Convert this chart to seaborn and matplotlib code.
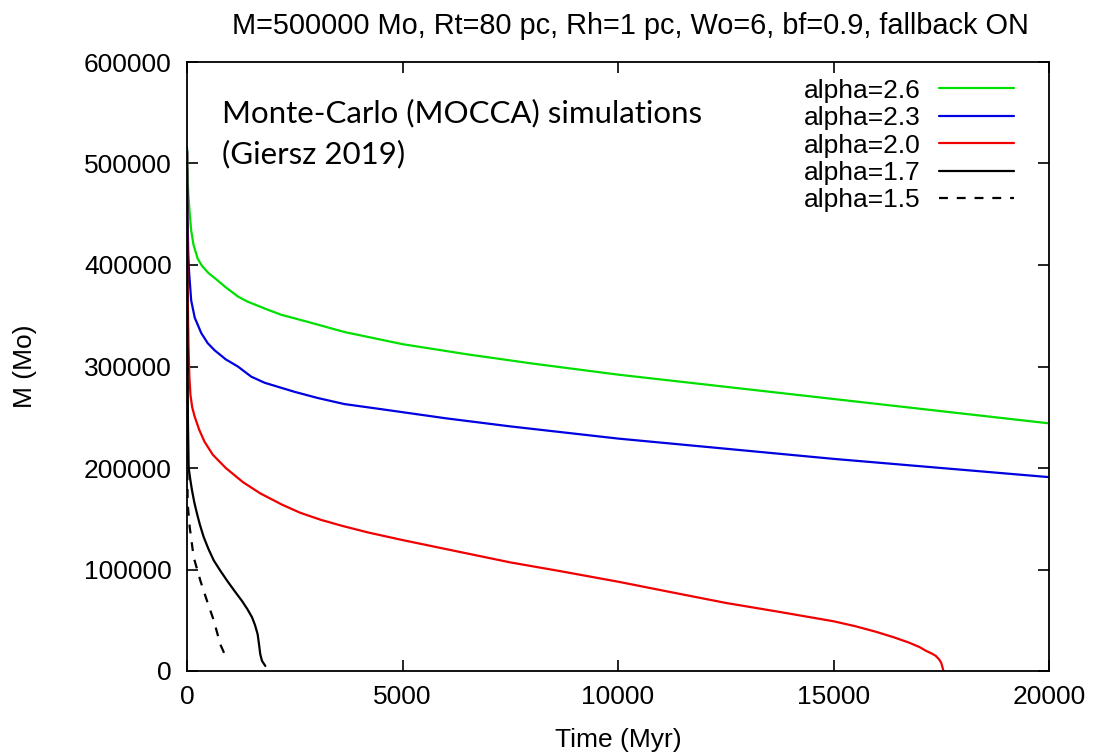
import matplotlib
matplotlib.use("Agg")
import matplotlib.pyplot as plt
import seaborn as sns
import pandas as pd

# Cluster mass evolution for different IMF slopes (MOCCA runs)
t_a26 = [0, 10, 30, 60, 97, 150, 250, 350, 500, 677, 900, 1180, 1400, 1870, 2185,
         2800, 3650, 5000, 6500, 8000, 10000, 12500, 15000, 17500, 20000]
m_a26 = [516000, 490000, 470000, 452000, 434000, 420000, 406000, 399000, 392000, 386000,
         378000, 369000, 364000, 356000, 351000, 344000, 334000, 322000, 312000, 303000,
         292000, 280000, 268000, 256000, 244000]

t_a23 = [0, 5, 15, 30, 50, 97, 180, 330, 480, 640, 900, 1180, 1490, 1800, 2110, 2500,
         3030, 3650, 4500, 5000, 6000, 7500, 10000, 12500, 15000, 17500, 20000]
m_a23 = [514000, 480000, 440000, 410000, 392000, 365000, 348000, 333000, 323000, 316000,
         307000, 300000, 290000, 284000, 280000, 275000, 269000, 263000, 258000, 255000,
         249000, 241000, 229000, 219000, 209000, 200000, 191000]

t_a20 = [0, 5, 12, 20, 35, 55, 80, 120, 175, 280, 405, 600, 900, 1300, 1700, 2200,
         2620, 3100, 3600, 4200, 5000, 6250, 7500, 8645, 10000, 11250, 12510, 13750,
         15000, 15500, 15980, 16400, 16750, 17000, 17140, 17280, 17370, 17450, 17500,
         17530, 17550]
m_a20 = [512000, 450000, 400000, 360000, 320000, 290000, 272000, 260000, 251000, 238000,
         226000, 213000, 200000, 186000, 175000, 164000, 156000, 149000, 143000, 136500,
         129000, 118000, 107000, 98500, 88000, 77500, 67000, 58200, 49000, 44200, 38700,
         33200, 28000, 23500, 20000, 17200, 15000, 11500, 8000, 3500, 0]

t_a17 = [0, 5, 12, 22, 39, 75, 116, 170, 232, 300, 387, 500, 620, 770, 930, 1100,
         1276, 1400, 1508, 1580, 1640, 1675, 1700, 1740, 1817]
m_a17 = [512000, 420000, 320000, 245000, 200000, 189000, 178000, 166000, 155000, 144000,
         132000, 120000, 109000, 99000, 89000, 79000, 69000, 61000, 53000, 45000, 36000,
         25000, 16500, 10000, 5000]

t_a15 = [0, 4, 8, 15, 62, 155, 310, 465, 620, 775, 890]
m_a15 = [512000, 330000, 200000, 165000, 142000, 112000, 89000, 69000, 50000, 26000, 15000]

labels = ["alpha=2.6", "alpha=2.3", "alpha=2.0", "alpha=1.7", "alpha=1.5"]
series_t = [t_a26, t_a23, t_a20, t_a17, t_a15]
series_m = [m_a26, m_a23, m_a20, m_a17, m_a15]
colors = ["#00e000", "#0000e0", "#f00000", "#000000", "#000000"]
styles = ["-", "-", "-", "-", (0, (4, 4))]

sns.set_theme(style="ticks")
plt.rcParams["font.family"] = ["Liberation Sans", "DejaVu Sans"]
plt.rcParams["text.color"] = "black"
plt.rcParams["axes.labelcolor"] = "black"

fig = plt.figure(figsize=(10.96, 7.55), dpi=100)
ax = fig.add_axes([187 / 1096, 84 / 755, 862 / 1096, 609 / 755])

for lab, tt, mm, col, ls in zip(labels, series_t, series_m, colors, styles):
    df = pd.DataFrame({"t": tt, "M": mm})
    sns.lineplot(data=df, x="t", y="M", ax=ax, color=col, linestyle=ls,
                 linewidth=1.6, estimator=None, sort=False, label=lab)

ax.set_xlim(0, 20000)
ax.set_ylim(0, 600000)
ax.set_xticks([0, 5000, 10000, 15000, 20000])
ax.set_yticks([0, 100000, 200000, 300000, 400000, 500000, 600000])
ax.set_xticklabels(["0", "5000", "10000", "15000", "20000"])
ax.set_yticklabels(["0", "100000", "200000", "300000", "400000", "500000", "600000"])
ax.tick_params(direction="in", length=8, width=1.2, top=True, right=True,
               labelsize=19, colors="black")
ax.tick_params(axis="y", pad=11)
ax.tick_params(axis="x", pad=10)
for sp in ax.spines.values():
    sp.set_color("black")
    sp.set_linewidth(1.3)

ax.set_xlabel("Time (Myr)", fontsize=19, labelpad=14, color="black")
ax.set_ylabel("M (Mo)", fontsize=19, labelpad=34, color="black")
title = ax.set_title("M=500000 Mo, Rt=80 pc, Rh=1 pc, Wo=6, bf=0.9, fallback ON",
                     fontsize=20.8, pad=20, color="black")
title.set_x(0.514)

ax.text(0.0406, 0.94, "Monte-Carlo (MOCCA) simulations\n(Giersz 2019)",
        transform=ax.transAxes, ha="left", va="top", fontsize=22.5, color="black",
        family=["Lato", "DejaVu Sans"], linespacing=1.55)

leg = ax.legend(loc="upper right", frameon=False, fontsize=19, markerfirst=False,
                handlelength=2.85, handletextpad=0.7, labelspacing=0.13,
                borderaxespad=0.3, bbox_to_anchor=(0.981, 1.003))
for txt in leg.get_texts():
    txt.set_color("black")

fig.savefig("out.png", dpi=100)
